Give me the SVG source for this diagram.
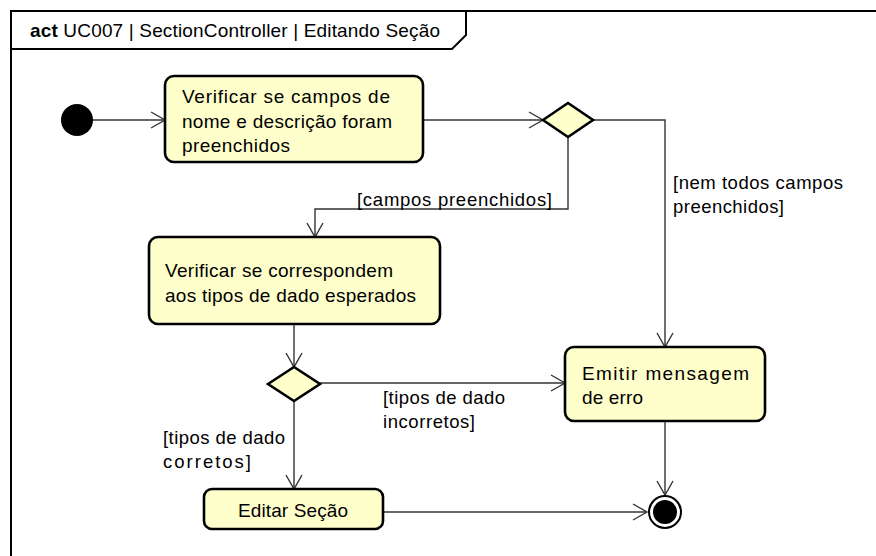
<svg xmlns="http://www.w3.org/2000/svg" width="876" height="556" viewBox="0 0 876 556">
<defs>
<marker id="arr" viewBox="0 0 20 20" refX="16" refY="10" markerWidth="20" markerHeight="20" markerUnits="userSpaceOnUse" orient="auto">
<path d="M2,2 L16,10 L2,18" fill="none" stroke="#333" stroke-width="1.4"/>
</marker>
<style>
.frame{fill:none;stroke:#000;stroke-width:2}
.act{fill:#ffffcc;stroke:#000;stroke-width:2.6}
.dec{fill:#ffffcc;stroke:#000;stroke-width:2.6}
.t{font-family:"Liberation Sans",Arial,sans-serif;font-size:19px;fill:#000}
.l{font-family:"Liberation Sans",Arial,sans-serif;font-size:18.5px;fill:#000}
.c{fill:none;stroke:#333;stroke-width:1.4;marker-end:url(#arr)}
</style>
</defs>
<rect x="0" y="0" width="876" height="556" fill="#fff"/>
<g id="frame">
<path class="frame" d="M11,556 L11,11 L876,11"/>
<path class="frame" d="M11,49 L452,49 L466,35 L466,11" stroke-width="1.4"/>
<text x="30" y="37" class="t" font-size="18" textLength="410" lengthAdjust="spacing"><tspan font-weight="bold">act</tspan> UC007 | SectionController | Editando Seção</text>
</g>
<g id="connectors">
<line class="c" x1="93" y1="120" x2="165" y2="120"/>
<line class="c" x1="423" y1="120" x2="543" y2="120"/>
<polyline class="c" points="593,120 665,120 665,347"/>
<polyline class="c" points="568,137 568,209 315,209 315,237"/>
<line class="c" x1="294" y1="324" x2="294" y2="367"/>
<line class="c" x1="320" y1="383" x2="565" y2="383"/>
<line class="c" x1="294" y1="401" x2="294" y2="489"/>
<line class="c" x1="665" y1="421" x2="665" y2="495"/>
<line class="c" x1="383" y1="512" x2="647" y2="512"/>
<text x="357" y="206" class="l" textLength="195" lengthAdjust="spacing">[campos preenchidos]</text>
<text x="673" y="189" class="l" textLength="170" lengthAdjust="spacing">[nem todos campos</text>
<text x="673" y="213" class="l" textLength="111" lengthAdjust="spacing">preenchidos]</text>
<text x="383" y="404" class="l" textLength="122" lengthAdjust="spacing">[tipos de dado</text>
<text x="383" y="428" class="l" textLength="92" lengthAdjust="spacing">incorretos]</text>
<text x="163" y="444" class="l" textLength="122" lengthAdjust="spacing">[tipos de dado</text>
<text x="163" y="468" class="l" textLength="88" lengthAdjust="spacing">corretos]</text>
</g>
<g id="initial">
<circle cx="77" cy="120" r="16" fill="#000"/>
</g>
<g id="a1">
<rect class="act" x="165" y="76" width="258" height="86" rx="9"/>
<text x="182" y="103" class="t" textLength="208" lengthAdjust="spacing">Verificar se campos de</text>
<text x="182" y="128" class="t" textLength="210" lengthAdjust="spacing">nome e descrição foram</text>
<text x="182" y="152" class="t" textLength="108" lengthAdjust="spacing">preenchidos</text>
</g>
<g id="d1">
<polygon class="dec" points="543,120 568,103 593,120 568,137"/>
</g>
<g id="a2">
<rect class="act" x="149" y="237" width="291" height="87" rx="9"/>
<text x="165" y="277" class="t" textLength="228" lengthAdjust="spacing">Verificar se correspondem</text>
<text x="165" y="302" class="t" textLength="251" lengthAdjust="spacing">aos tipos de dado esperados</text>
</g>
<g id="d2">
<polygon class="dec" points="268,384 294,367 320,384 294,401"/>
</g>
<g id="a3">
<rect class="act" x="565" y="347" width="200" height="74" rx="9"/>
<text x="582" y="380" class="t" textLength="167" lengthAdjust="spacing">Emitir mensagem</text>
<text x="582" y="404" class="t" textLength="61" lengthAdjust="spacing">de erro</text>
</g>
<g id="a4">
<rect class="act" x="204" y="489" width="179" height="40" rx="8"/>
<text x="238" y="517" class="t" textLength="110" lengthAdjust="spacing">Editar Seção</text>
</g>
<g id="final">
<circle cx="665" cy="512" r="16" fill="#fff" stroke="#000" stroke-width="2"/>
<circle cx="665" cy="512" r="12" fill="#000"/>
</g>
</svg>
